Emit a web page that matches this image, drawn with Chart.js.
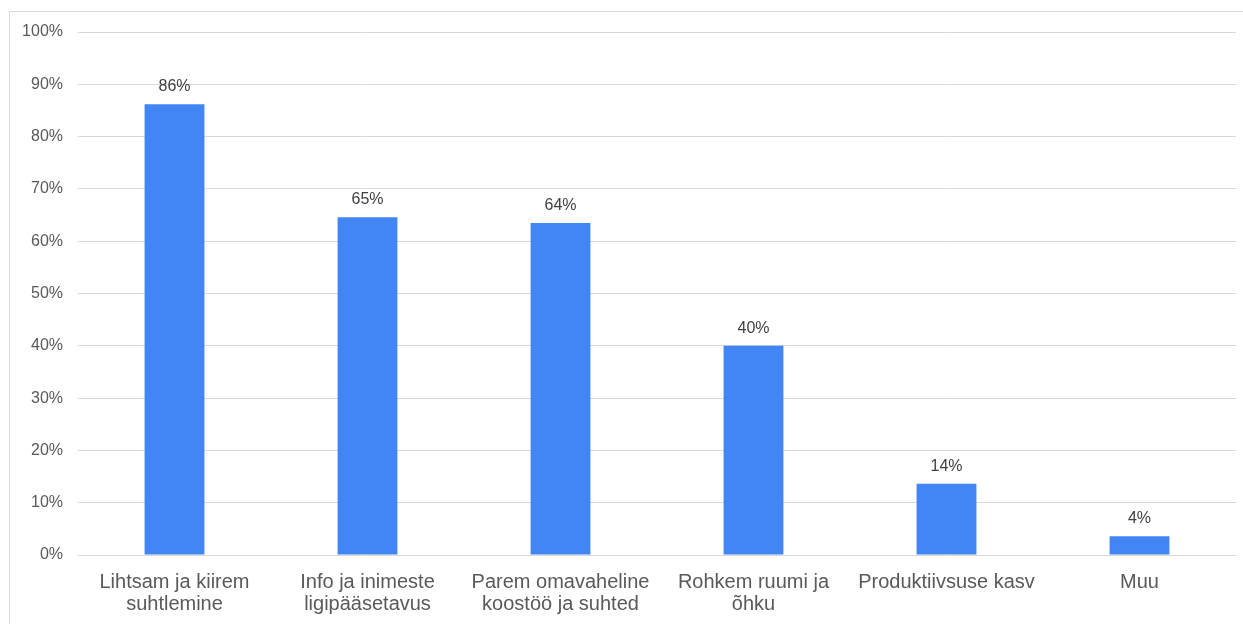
<!DOCTYPE html>
<html>
<head>
<meta charset="utf-8">
<script src="https://cdn.jsdelivr.net/npm/chart.js@4"></script>
<style>
  html, body { margin: 0; padding: 0; background: #fff; overflow: hidden; }
  #wrap { position: relative; width: 1243px; height: 624px; }
  #frame { position: absolute; left: 9px; top: 11px; width: 1240px; height: 620px; border: 1px solid #d9d9d9; }
  #graf { position: absolute; left: 0; top: 0; }
</style>
</head>
<body>
<div id="wrap">
  <div id="frame"></div>
  <canvas id="graf" width="1243" height="624"></canvas>
</div>
<script>
const kategooriad = [
  ['Lihtsam ja kiirem', 'suhtlemine'],
  ['Info ja inimeste', 'ligipääsetavus'],
  ['Parem omavaheline', 'koostöö ja suhted'],
  ['Rohkem ruumi ja', 'õhku'],
  'Produktiivsuse kasv',
  'Muu'
];
const vaartused = [86.2, 64.6, 63.5, 40.0, 13.6, 3.6];
const silteY = [0, 10, 20, 30, 40, 50, 60, 70, 80, 90, 100];

// silt iga tulba kohale
const tulbaSildid = {
  id: 'tulbaSildid',
  afterDatasetsDraw(chart) {
    const ctx = chart.ctx;
    ctx.save();
    ctx.font = '16px "Liberation Sans", Arial, sans-serif';
    ctx.fillStyle = '#404040';
    ctx.textAlign = 'center';
    ctx.textBaseline = 'alphabetic';
    chart.getDatasetMeta(0).data.forEach(function (bar, i) {
      ctx.fillText(Math.round(vaartused[i]) + '%', bar.x, bar.y - 13);
    });
    ctx.restore();
  }
};

document.addEventListener('DOMContentLoaded', function () {
  const ctx = document.getElementById('graf').getContext('2d');
  new Chart(ctx, {
    type: 'bar',
    data: {
      labels: kategooriad,
      datasets: [{
        data: vaartused,
        backgroundColor: '#4285f4',
        barPercentage: 0.62,
        categoryPercentage: 0.5
      }]
    },
    options: {
      responsive: false,
      animation: false,
      layout: { padding: { top: 32, right: 7, bottom: 0, left: 0 } },
      plugins: {
        legend: { display: false },
        tooltip: { enabled: false }
      },
      scales: {
        x: {
          grid: { display: false },
          border: { display: false },
          ticks: {
            color: '#595959',
            font: { family: '"Liberation Sans", Arial, sans-serif', size: 20, lineHeight: 1.1 },
            padding: 8,
            maxRotation: 0,
            autoSkip: false
          },
          afterFit(scale) { scale.height = 69; }
        },
        y: {
          min: 0,
          max: 100,
          afterBuildTicks(scale) { scale.ticks = silteY.map(v => ({ value: v })); },
          grid: { color: '#d9d9d9', lineWidth: 1, drawTicks: false },
          border: { display: false },
          ticks: {
            color: '#595959',
            font: { family: '"Liberation Sans", Arial, sans-serif', size: 16 },
            padding: 15,
            callback: v => v + '%'
          },
          afterFit(scale) { scale.width = 78; }
        }
      }
    },
    plugins: [tulbaSildid]
  });
});
</script>
</body>
</html>
